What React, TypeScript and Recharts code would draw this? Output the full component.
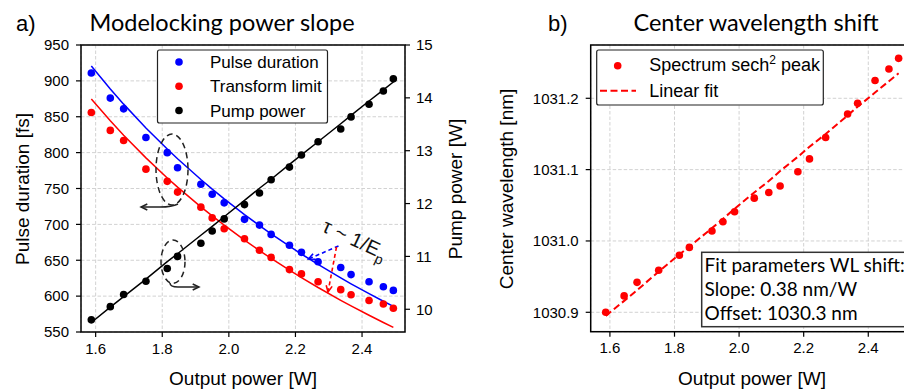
import { LineChart, Line, XAxis, YAxis, CartesianGrid } from "recharts"

// output power [W], shared by both panels
const outputPower = [1.587, 1.644, 1.684, 1.751, 1.815, 1.846, 1.916, 1.95, 1.986, 2.047, 2.092, 2.127, 2.182, 2.218, 2.268, 2.336, 2.367, 2.421, 2.464, 2.494]

// panel a)
const pulseDuration = [911, 876, 861, 821, 800, 779, 756, 742, 730, 707, 699, 686, 671, 661, 648, 640, 630, 620, 613, 608]
const transformLimit = [856, 831, 817, 777, 760, 745, 724, 709, 694, 680, 664, 654, 637, 631, 620, 609, 602, 594, 589, 583]
const pumpPower = [9.8, 10.05, 10.28, 10.53, 10.77, 11.0, 11.25, 11.48, 11.71, 11.98, 12.2, 12.45, 12.69, 12.92, 13.17, 13.41, 13.64, 13.88, 14.13, 14.36]
const pulseFit = [920.6, 888.7, 867.6, 834.4, 805.0, 791.4, 762.5, 749.2, 735.6, 713.7, 698.4, 686.9, 669.6, 658.7, 644.2, 625.4, 617.2, 603.5, 592.9, 585.8]
const limitFit = [874.6, 844.3, 824.2, 792.7, 764.7, 751.9, 724.4, 711.8, 698.9, 678.1, 663.5, 652.6, 636.1, 625.8, 612.0, 594.2, 586.4, 573.3, 563.3, 556.5]
const pumpFit = [9.75, 10.04, 10.24, 10.57, 10.9, 11.05, 11.4, 11.57, 11.75, 12.06, 12.29, 12.46, 12.74, 12.92, 13.17, 13.51, 13.67, 13.94, 14.15, 14.3]

// panel b)
const centerWl = [1030.9, 1030.923, 1030.942, 1030.959, 1030.98, 1030.991, 1031.014, 1031.027, 1031.041, 1031.06, 1031.068, 1031.077, 1031.097, 1031.115, 1031.145, 1031.178, 1031.193, 1031.225, 1031.241, 1031.256]
const wlFit = [1030.895, 1030.916, 1030.931, 1030.957, 1030.981, 1030.992, 1031.018, 1031.031, 1031.045, 1031.068, 1031.084, 1031.098, 1031.118, 1031.132, 1031.15, 1031.176, 1031.188, 1031.208, 1031.224, 1031.235]

const xTicks = [1.6, 1.8, 2.0, 2.2, 2.4]
const fsTicks = [550, 600, 650, 700, 750, 800, 850, 900, 950]
const pumpTicks = [10, 11, 12, 13, 14, 15]
const wlTicks = [1030.9, 1031.0, 1031.1, 1031.2]

const dataA = outputPower.map((x, i) => ({
  x,
  pulse: pulseDuration[i],
  limit: transformLimit[i],
  pump: pumpPower[i],
  pulseFit: pulseFit[i],
  limitFit: limitFit[i],
  pumpFit: pumpFit[i],
}))
const dataB = outputPower.map((x, i) => ({ x, wl: centerWl[i], fit: wlFit[i] }))

const SANS = "'Liberation Sans', Arial, sans-serif"
const HUM = "Lato, 'Open Sans', sans-serif"
const tickStyle = { fill: "#000", fontSize: 15, fontFamily: SANS }
const tickLine = { stroke: "#000", strokeWidth: 1.2 }
const BLUE = "#0000ff"
const RED = "#ff0000"

const dot = (c: string) => ({ r: 3.8, fill: c, stroke: "none" })

// simple open arrow head at (x2,y2)
function head(x1: number, y1: number, x2: number, y2: number, s = 7) {
  const a = Math.atan2(y2 - y1, x2 - x1)
  const p = (d: number) => `${x2 - s * Math.cos(a + d)},${y2 - s * Math.sin(a + d)}`
  return `M${p(0.45)} L${x2},${y2} L${p(-0.45)}`
}

export default function App() {
  return (
    <div style={{ position: "relative", width: 904, height: 392, overflow: "hidden", background: "#fff" }}>
      <style>{"body{margin:0}"}</style>

      {/* a) Modelocking power slope */}
      <div style={{ position: "absolute", left: 0, top: 0 }}>
        <LineChart width={470} height={392} data={dataA} margin={{ top: 45, right: 15, left: 0, bottom: 0 }}>
          <CartesianGrid yAxisId="l" stroke="#d2d2d2" strokeDasharray="3.5 2" />
          <XAxis dataKey="x" type="number" domain={[1.556, 2.529]} ticks={xTicks} allowDataOverflow
            tickFormatter={(v) => v.toFixed(1)} tick={tickStyle} tickLine={tickLine} axisLine={false}
            tickSize={5} tickMargin={6} height={60} />
          <YAxis yAxisId="l" domain={[550, 950]} ticks={fsTicks} allowDataOverflow tick={tickStyle}
            tickLine={tickLine} axisLine={false} tickSize={5} tickMargin={7} width={81} />
          <YAxis yAxisId="r" orientation="right" domain={[9.57, 15]} ticks={pumpTicks} allowDataOverflow
            tick={tickStyle} tickLine={tickLine} axisLine={false} tickSize={5} tickMargin={6} width={50} />
          <Line yAxisId="l" dataKey="pulseFit" stroke={BLUE} strokeWidth={1.5} dot={false} isAnimationActive={false} />
          <Line yAxisId="l" dataKey="limitFit" stroke={RED} strokeWidth={1.5} dot={false} isAnimationActive={false} />
          <Line yAxisId="r" dataKey="pumpFit" stroke="#000" strokeWidth={1.5} dot={false} isAnimationActive={false} />
          <Line yAxisId="l" dataKey="pulse" stroke="none" dot={dot(BLUE)} activeDot={false} isAnimationActive={false} />
          <Line yAxisId="l" dataKey="limit" stroke="none" dot={dot(RED)} activeDot={false} isAnimationActive={false} />
          <Line yAxisId="r" dataKey="pump" stroke="none" dot={dot("#000")} activeDot={false} isAnimationActive={false} />
        </LineChart>
      </div>

      {/* b) Center wavelength shift */}
      <div style={{ position: "absolute", left: 480, top: 0 }}>
        <LineChart width={460} height={392} data={dataB} margin={{ top: 45, right: 27, left: 0, bottom: 0 }}>
          <CartesianGrid stroke="#d2d2d2" strokeDasharray="3.5 2" />
          <XAxis dataKey="x" type="number" domain={[1.5405, 2.5385]} ticks={xTicks} allowDataOverflow
            tickFormatter={(v) => v.toFixed(1)} tick={tickStyle} tickLine={tickLine} axisLine={false}
            tickSize={5} tickMargin={6} height={60.3} />
          <YAxis domain={[1030.8728, 1031.2747]} ticks={wlTicks} allowDataOverflow tickFormatter={(v) => v.toFixed(1)}
            tick={tickStyle} tickLine={tickLine} axisLine={false} tickSize={5} tickMargin={7} width={110.7} />
          <Line dataKey="fit" stroke={RED} strokeWidth={2} strokeDasharray="7 3.5" dot={false} isAnimationActive={false} />
          <Line dataKey="wl" stroke="none" dot={dot(RED)} activeDot={false} isAnimationActive={false} />
        </LineChart>
      </div>

      {/* frames, titles, legends, annotations */}
      <svg width={904} height={392} style={{ position: "absolute", left: 0, top: 0, pointerEvents: "none" }}>
        <rect x={81} y={45} width={324} height={287} fill="none" stroke="#000" strokeWidth={1.5} />
        <rect x={590.7} y={45} width={322.3} height={286.7} fill="none" stroke="#000" strokeWidth={1.5} />

        <text x={16} y={31} fontFamily={SANS} fontSize={22}>a)</text>
        <text x={222} y={31} fontFamily={HUM} fontSize={23.5} textAnchor="middle">Modelocking power slope</text>
        <text x={548} y={31} fontFamily={SANS} fontSize={22}>b)</text>
        <text x={756} y={31} fontFamily={HUM} fontSize={23.5} textAnchor="middle">Center wavelength shift</text>

        <text x={243} y={385} fontFamily={SANS} fontSize={19} textAnchor="middle">Output power [W]</text>
        <text x={752} y={385} fontFamily={SANS} fontSize={19} textAnchor="middle">Output power [W]</text>
        <text x={29} y={189} fontFamily={SANS} fontSize={19} textAnchor="middle" transform="rotate(-90 29 189)">Pulse duration [fs]</text>
        <text x={462} y={189} fontFamily={SANS} fontSize={19} textAnchor="middle" transform="rotate(-90 462 189)">Pump power [W]</text>
        <text x={513} y={189} fontFamily={SANS} fontSize={19} textAnchor="middle" transform="rotate(-90 513 189)">Center wavelength [nm]</text>

        {/* legend a */}
        <rect x={157.5} y={50} width={170} height={73} rx={2} fill="#fff" stroke="#222" strokeWidth={1.2} />
        <circle cx={179} cy={62} r={3.8} fill={BLUE} />
        <circle cx={179} cy={86.3} r={3.8} fill={RED} />
        <circle cx={179} cy={110.5} r={3.8} fill="#000" />
        <text x={210} y={68} fontFamily={SANS} fontSize={17}>Pulse duration</text>
        <text x={210} y={92.3} fontFamily={SANS} fontSize={17}>Transform limit</text>
        <text x={210} y={116.5} fontFamily={SANS} fontSize={17}>Pump power</text>

        {/* legend b */}
        <rect x={596.7} y={50} width={226.6} height={55} rx={2} fill="#fff" stroke="#222" strokeWidth={1.2} />
        <circle cx={617.7} cy={65.7} r={3.8} fill={RED} />
        <line x1={600} y1={90.7} x2={636} y2={90.7} stroke={RED} strokeWidth={2} strokeDasharray="7 3.5" />
        <text x={649.3} y={71} fontFamily={SANS} fontSize={18}>
          Spectrum sech<tspan dy={-7} fontSize={12}>2</tspan><tspan dy={7}> peak</tspan>
        </text>
        <text x={649.3} y={97} fontFamily={SANS} fontSize={18}>Linear fit</text>

        {/* fit parameter box */}
        <rect x={701.7} y={252.3} width={260} height={74.4} fill="#fff" stroke="#333" strokeWidth={1.5} />
        <text x={704.5} y={271.7} fontFamily={HUM} fontSize={19}>Fit parameters WL shift:</text>
        <text x={704.5} y={296} fontFamily={HUM} fontSize={19}>Slope: 0.38 nm/W</text>
        <text x={704.5} y={320.3} fontFamily={HUM} fontSize={19}>Offset: 1030.3 nm</text>

        {/* axis hints */}
        <g fill="none" stroke="#222" strokeWidth={1.5}>
          <ellipse cx={172} cy={169.5} rx={16} ry={35.5} strokeDasharray="6 4" />
          <path d="M178 204 Q172 207 160 207 L141 207" />
          <path d={head(160, 207, 141, 207)} />
          <ellipse cx={173} cy={261.7} rx={12} ry={21.7} strokeDasharray="6 4" />
          <path d="M170 283 Q170 287 178 287 L199 287" />
          <path d={head(178, 287, 199, 287)} />
        </g>
        <g fill="none" strokeWidth={1.6}>
          <path d="M338.5 246 L308.5 259" stroke={BLUE} strokeDasharray="4 3" />
          <path d={head(338.5, 246, 308.5, 259)} stroke={BLUE} />
          <path d="M336.5 247 L328 292" stroke={RED} strokeDasharray="4 3" />
          <path d={head(336.5, 247, 328, 292)} stroke={RED} />
        </g>
        <text x={321} y={231} fontFamily={SANS} fontSize={20} fill="#111" transform="rotate(25 321 231)">
          τ ~ 1/E<tspan dy={6} fontSize={14}>p</tspan>
        </text>
      </svg>
    </div>
  )
}
